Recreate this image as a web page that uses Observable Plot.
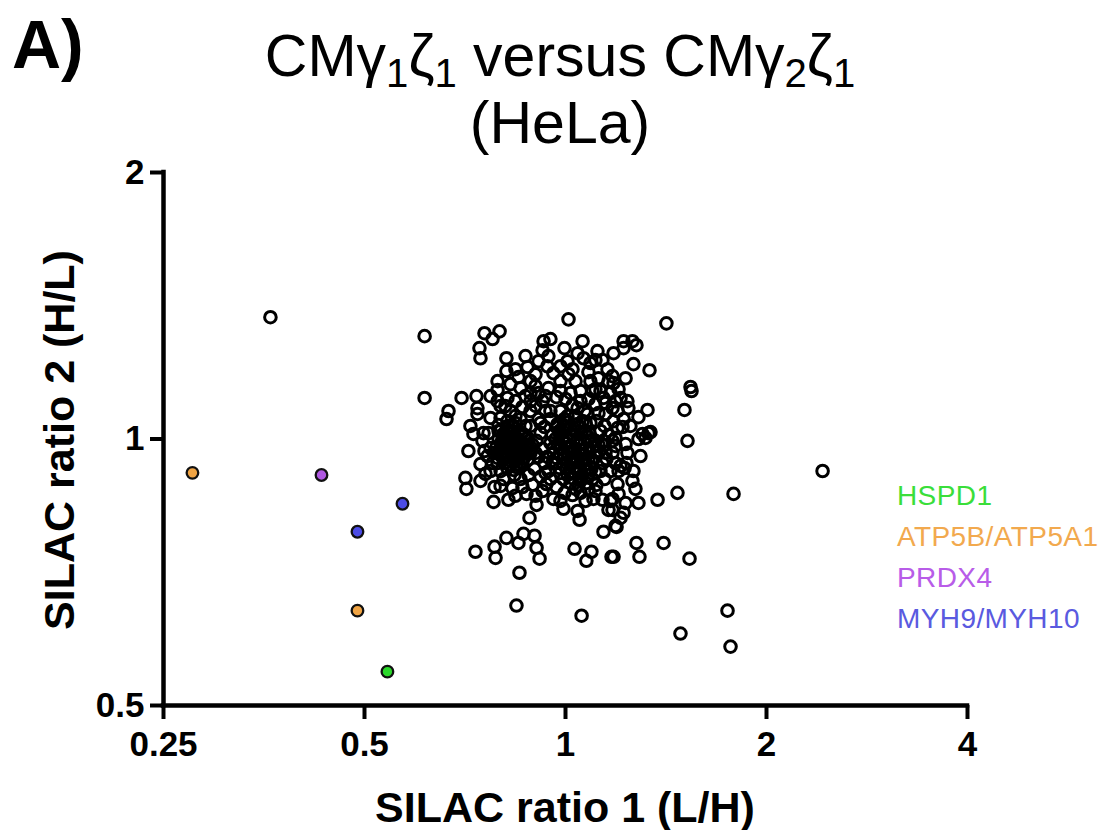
<!DOCTYPE html>
<html>
<head>
<meta charset="utf-8">
<script src="https://cdn.jsdelivr.net/npm/d3@7"></script>
<script src="https://cdn.jsdelivr.net/npm/@observablehq/plot@0.6"></script>
<style>
  html, body { margin: 0; padding: 0; background: #fff; }
  #wrap { position: relative; width: 1101px; height: 830px; overflow: hidden; font-family: "Liberation Sans", Arial, sans-serif; }
  #wrap svg { position: absolute; left: 0; top: 0; }
  .lbl { position: absolute; white-space: nowrap; color: #000; }
  .title { left: 0; width: 1120px; top: 23px; text-align: center; font-size: 59px; line-height: 67px; }
  .title sub { font-size: 0.68em; vertical-align: -0.28em; line-height: 0; color: #000; }
  .panel { left: 12px; top: 10px; font-size: 68px; line-height: 68px; font-weight: bold; }
  .xtitle { left: 0; width: 1130px; top: 786px; text-align: center; font-size: 43px; line-height: 43px; font-weight: bold; }
  .ytitle { left: 59px; top: 440px; font-size: 43px; line-height: 43px; font-weight: bold; transform: translate(-50%, -50%) rotate(-90deg); }
  .leg { left: 897px; font-size: 28px; line-height: 28px; letter-spacing: 0.4px; }
</style>
</head>
<body>
<div id="wrap"></div>
<script>
// ---- Data (log2 of SILAC ratios) ----
const xTicks = [0.25, 0.5, 1, 2, 4];
const xTickLabels = ["0.25", "0.5", "1", "2", "4"];
const yTicks = [0.5, 1, 2];
const yTickLabels = ["0.5", "1", "2"];

const legendProteins = ["HSPD1", "ATP5B/ATP5A1", "PRDX4", "MYH9/MYH10"];
const legendColors = ["#2bd82b", "#f0a444", "#b058e2", "#4c4ce6"];
const legendTextColors = ["#3ade3a", "#f2a94e", "#b85ce8", "#5a5ae0"];

const highlightProtein = ["HSPD1", "ATP5B/ATP5A1", "ATP5B/ATP5A1", "PRDX4", "MYH9/MYH10", "MYH9/MYH10"];
const highlightRatio1Log2 = [-0.886, -1.856, -1.035, -1.214, -0.811, -1.035];
const highlightRatio2Log2 = [-0.873, -0.127, -0.644, -0.135, -0.243, -0.348];

// [log2 ratio 1 (L/H), log2 ratio 2 (H/L)] for all other proteins
const backgroundLog2 = [
  [-1.468,0.457],[-0.701,0.386],[-0.701,0.154],[-0.403,0.397],[-0.363,0.375],[-0.328,0.404],
  [-0.428,0.341],[-0.423,0.303],[-0.294,0.303],[-0.294,0.255],[-0.517,0.154],[-0.443,0.161],
  [-0.582,0.105],[-0.592,0.075],[-0.438,0.116],[-0.438,0.094],[-0.473,0.049],[-0.338,0.217],
  [0.015,0.449],[0.502,0.434],[0.622,0.195],[0.627,0.180],[0.592,0.109],[0.607,-0.007],
  [1.279,-0.120],[0.836,-0.206],[0.557,-0.202],[0.458,-0.228],[0.488,-0.390],[0.617,-0.449],
  [0.806,-0.644],[0.572,-0.730],[0.821,-0.779],[-0.244,-0.625],[0.080,-0.663],[-0.229,-0.502],
  [-0.448,-0.423],[-0.353,-0.404],[-0.348,-0.446],[-0.294,-0.371],[-0.234,-0.390],[-0.209,-0.356],
  [-0.154,-0.363],[-0.144,-0.408],[-0.129,-0.449],[0.045,-0.412],[0.129,-0.423],[0.104,-0.457],
  [0.229,-0.442],[0.353,-0.390],[0.368,-0.442],[0.239,-0.442],[-0.179,-0.296],[0.189,-0.348],
  [0.249,-0.326],[0.274,-0.296],[0.289,-0.277],[0.254,-0.330],[0.418,0.258],[0.338,0.281],
  [0.408,0.109],[0.413,0.022],[-0.483,-0.045],[-0.423,-0.094],[-0.398,-0.131],[-0.423,-0.157],
  [-0.498,-0.146],[-0.493,-0.187],[-0.353,-0.180],[-0.358,-0.236],[-0.284,-0.228],[-0.308,-0.150],
  [-0.264,-0.184],[-0.338,-0.090],[-0.194,-0.206],[-0.144,-0.247],[-0.095,-0.169],[-0.060,-0.225],
  [-0.010,-0.262],[0.060,-0.270],[0.070,-0.303],[0.139,-0.225],[0.184,-0.228],[0.224,-0.232],
  [0.214,-0.266],[0.348,-0.187],[0.363,-0.240],[0.299,-0.240],[0.259,-0.169],[0.234,-0.225],
  [0.234,-0.266],[0.274,-0.101],[0.294,-0.109],
  [-0.338,0.184],[-0.289,0.154],[-0.299,0.124],[-0.234,0.232],[-0.189,0.270],[-0.149,0.243],
  [-0.114,0.333],[-0.109,0.367],[-0.075,0.375],[-0.085,0.311],[-0.090,0.273],[-0.005,0.341],
  [0.010,0.292],[0.085,0.367],[0.060,0.322],[0.090,0.303],[0.159,0.330],[0.149,0.296],
  [0.184,0.296],[0.239,0.322],[0.114,0.251],[0.164,0.228],[0.209,0.262],[0.214,0.217],
  [0.234,0.236],[0.149,0.187],[0.189,0.154],[0.249,0.142],[0.075,0.180],[-0.025,0.217],
  [0.015,0.243],[0.000,0.150],[0.060,0.116],[-0.085,0.191],[-0.114,0.142],[-0.174,0.172],
  [-0.214,0.120],[-0.224,0.191],[-0.274,0.206],[-0.338,0.142],[-0.373,0.079],[-0.408,0.022],
  [-0.323,0.079],[-0.284,0.049],[-0.224,0.075],[-0.174,0.105],[-0.134,0.075],[-0.075,0.105],
  [-0.040,0.056],[0.010,0.086],[0.060,0.056],[0.109,0.094],[0.149,0.131],[0.199,0.094],
  [0.234,0.116],[0.259,0.041],[-0.458,0.019],[-0.413,-0.007],[-0.373,-0.034],[-0.308,-0.007],
  [0.289,0.367],[0.333,0.367],[0.353,0.352],[0.289,0.341],[0.299,0.228],[0.239,0.210],
  [0.264,0.187],[0.274,0.154],[0.308,0.142],[0.363,0.082],[0.259,0.105],[0.313,0.116],
  [0.289,0.075],[0.239,0.067],[0.284,0.045],[0.423,0.026],[0.383,0.019],[0.363,0.000],
  [0.398,0.004],[0.249,0.004],[0.299,-0.019],[0.234,-0.007],[0.308,-0.052],[0.373,-0.064],
  [0.338,-0.120],
  [-0.323,0.030],[-0.294,0.037],[-0.264,0.022],[-0.234,0.030],[-0.204,0.015],[-0.333,0.000],
  [-0.303,0.007],[-0.274,-0.007],[-0.244,0.000],[-0.214,-0.015],[-0.184,-0.007],[-0.343,-0.030],
  [-0.313,-0.022],[-0.284,-0.037],[-0.254,-0.030],[-0.224,-0.045],[-0.194,-0.037],[-0.323,-0.060],
  [-0.294,-0.067],[-0.264,-0.060],[-0.234,-0.075],[-0.204,-0.067],[-0.303,-0.090],[-0.274,-0.097],
  [-0.244,-0.105],[-0.214,-0.090],[-0.353,-0.052],[-0.174,-0.052],[-0.164,-0.022],[-0.249,0.060],
  [-0.289,0.067],[-0.199,0.049],
  [-0.308,0.019],[-0.279,0.026],[-0.249,0.011],[-0.219,0.019],[-0.189,0.004],[-0.318,-0.011],
  [-0.289,-0.004],[-0.259,-0.019],[-0.229,-0.011],[-0.199,-0.026],[-0.328,-0.041],[-0.299,-0.034],
  [-0.269,-0.049],[-0.239,-0.041],[-0.209,-0.056],[-0.308,-0.071],[-0.279,-0.079],[-0.249,-0.071],
  [-0.219,-0.086],[-0.189,-0.079],[-0.289,-0.109],[-0.259,-0.116],[-0.229,-0.101],[-0.338,-0.071],
  [-0.169,-0.034],[-0.149,-0.052],[-0.333,0.030],[-0.264,0.052],
  [-0.045,0.045],[-0.010,0.052],[0.025,0.037],[0.065,0.045],[0.100,0.030],[-0.065,0.015],
  [-0.030,0.022],[0.005,0.007],[0.040,0.015],[0.075,0.000],[0.114,0.007],[0.149,-0.007],
  [-0.075,-0.015],[-0.040,-0.022],[-0.005,-0.015],[0.030,-0.030],[0.065,-0.022],[0.100,-0.037],
  [0.134,-0.030],[0.169,-0.045],[-0.060,-0.052],[-0.025,-0.060],[0.010,-0.052],[0.045,-0.067],
  [0.080,-0.060],[0.114,-0.075],[0.149,-0.067],[-0.045,-0.090],[-0.010,-0.097],[0.025,-0.090],
  [0.060,-0.105],[0.095,-0.097],[0.129,-0.112],[-0.025,-0.127],[0.010,-0.135],[0.045,-0.127],
  [0.080,-0.142],[0.114,-0.135],[0.025,-0.165],[0.065,-0.172],[0.104,-0.165],[-0.005,0.075],
  [0.045,0.082],[0.124,0.060],[0.174,0.030],[0.184,-0.090],[-0.085,-0.120],
  [-0.030,0.030],[0.005,0.037],[0.045,0.030],[0.080,0.022],[0.119,0.022],[-0.050,0.000],
  [-0.015,0.000],[0.020,-0.007],[0.055,-0.007],[0.095,-0.015],[0.129,-0.007],[0.164,-0.022],
  [-0.060,-0.034],[-0.025,-0.037],[0.010,-0.030],[0.045,-0.045],[0.080,-0.041],[0.119,-0.052],
  [0.154,-0.049],[-0.045,-0.071],[-0.010,-0.075],[0.025,-0.075],[0.060,-0.082],[0.095,-0.075],
  [0.134,-0.086],[-0.030,-0.109],[0.005,-0.112],[0.040,-0.109],[0.075,-0.120],[0.109,-0.116],
  [0.149,-0.124],[-0.010,-0.150],[0.030,-0.146],[0.070,-0.154],[0.134,-0.150],[0.050,-0.187],
  [0.085,0.067],[0.015,0.064],[0.189,-0.007],[0.199,-0.052],[-0.090,-0.067],[-0.065,-0.090],
  [-0.174,0.049],[-0.124,0.022],[-0.144,-0.007],[-0.114,-0.037],[-0.134,-0.067],[-0.104,-0.090],
  [-0.154,-0.112],[-0.124,-0.142],[-0.184,-0.135],[-0.224,-0.150],[-0.164,-0.172],[-0.114,-0.195],
  [-0.075,-0.150],[-0.045,-0.180],[-0.005,-0.202],[0.035,-0.210],[0.075,-0.202],[0.114,-0.187],
  [0.154,-0.172],[0.194,-0.150],[0.224,-0.120],[0.204,-0.075],[0.234,-0.052],[0.194,-0.022],
  [0.214,0.015],[0.154,0.067],[0.095,0.105],[0.035,0.127],[-0.025,0.105],[-0.075,0.075],
  [-0.104,0.045],[-0.174,0.142],[-0.134,0.172],[-0.045,0.157],[0.114,0.150],[0.174,0.180],
  [0.224,0.172],[0.124,0.217],[0.050,0.217],[-0.060,0.247],[-0.134,0.292],[-0.199,0.311],
  [-0.249,0.262],[-0.274,0.105],[-0.333,0.052],[-0.383,0.022],[-0.363,-0.090],[-0.388,-0.064],
  [-0.323,-0.120],[-0.254,-0.135],[-0.214,-0.180],[0.323,0.049],[0.194,0.049],[0.303,-0.090],
  [0.333,-0.157],[0.264,-0.206],[-0.323,-0.176],
  [-0.149,0.199],[-0.100,0.161],[-0.199,0.161],[-0.249,0.142],[-0.025,0.180],[0.025,0.172],
  [0.075,0.142],[0.134,0.180],[0.199,0.135],[0.164,0.097],[0.050,0.086],[-0.100,0.105],
  [-0.149,0.124],[-0.249,0.086],[-0.323,0.124],[-0.373,0.161],[-0.025,0.273],[0.035,0.262],
  [0.124,0.285],[-0.174,0.217],[0.249,-0.026],[0.249,-0.090],[0.174,-0.120],[0.149,-0.195],
  [0.100,-0.232],[-0.025,-0.232],[-0.100,-0.127],[-0.149,-0.213],[-0.249,-0.213],[-0.373,-0.120],
  [-0.403,-0.045],[-0.124,0.060],[0.100,0.060],[0.264,-0.120]
];

// ---- Build tables ----
const background = backgroundLog2.map(([a, b]) => ({ratio1: 2 ** a, ratio2: 2 ** b}));
const highlights = highlightProtein.map((p, i) => ({
  protein: p, ratio1: 2 ** highlightRatio1Log2[i], ratio2: 2 ** highlightRatio2Log2[i]
}));

const chart = Plot.plot({
  width: 1101,
  height: 830,
  marginLeft: 163,
  marginRight: 134,
  marginTop: 172,
  marginBottom: 125,
  style: {fontFamily: "'Liberation Sans', Arial, sans-serif", background: "transparent", overflow: "visible", color: "#000"},
  x: {type: "log", base: 2, domain: [0.25, 4]},
  y: {type: "log", base: 2, domain: [0.5, 2]},
  color: {domain: legendProteins, range: legendColors},
  marks: [
    Plot.axisX({ticks: xTicks, tickFormat: d => xTickLabels[xTicks.indexOf(d)], tickSize: 14, tickPadding: 12,
      strokeWidth: 4, fontSize: 35, fontWeight: "bold", label: null}),
    Plot.axisY({ticks: yTicks, tickFormat: d => yTickLabels[yTicks.indexOf(d)], tickSize: 13, tickPadding: 6,
      strokeWidth: 4, fontSize: 35, fontWeight: "bold", label: null}),
    Plot.ruleY([0.5], {strokeWidth: 4.5, stroke: "#000", strokeLinecap: "square"}),
    Plot.ruleX([0.25], {strokeWidth: 4.5, stroke: "#000", strokeLinecap: "square"}),
    Plot.dot(background, {x: "ratio1", y: "ratio2", r: 5.8, stroke: "#000", strokeWidth: 3, fill: "none"}),
    Plot.dot(highlights, {x: "ratio1", y: "ratio2", r: 5.8, fill: "protein", stroke: "#111", strokeWidth: 2.3})
  ]
});

const wrap = document.getElementById("wrap");
wrap.appendChild(chart);

function addLabel(cls, html, style) {
  const d = document.createElement("div");
  d.className = "lbl " + cls;
  d.innerHTML = html;
  if (style) Object.assign(d.style, style);
  wrap.appendChild(d);
}
addLabel("panel", "A)");
addLabel("title", "CMγ<sub>1</sub>ζ<sub>1</sub> versus CMγ<sub>2</sub>ζ<sub>1</sub><br>(HeLa)");
addLabel("xtitle", "SILAC ratio 1 (L/H)");
addLabel("ytitle", "SILAC ratio 2 (H/L)");
const legendTops = [482, 523, 564, 605];
legendProteins.forEach((p, i) => addLabel("leg", p, {top: legendTops[i] + "px", color: legendTextColors[i]}));
</script>
</body>
</html>
